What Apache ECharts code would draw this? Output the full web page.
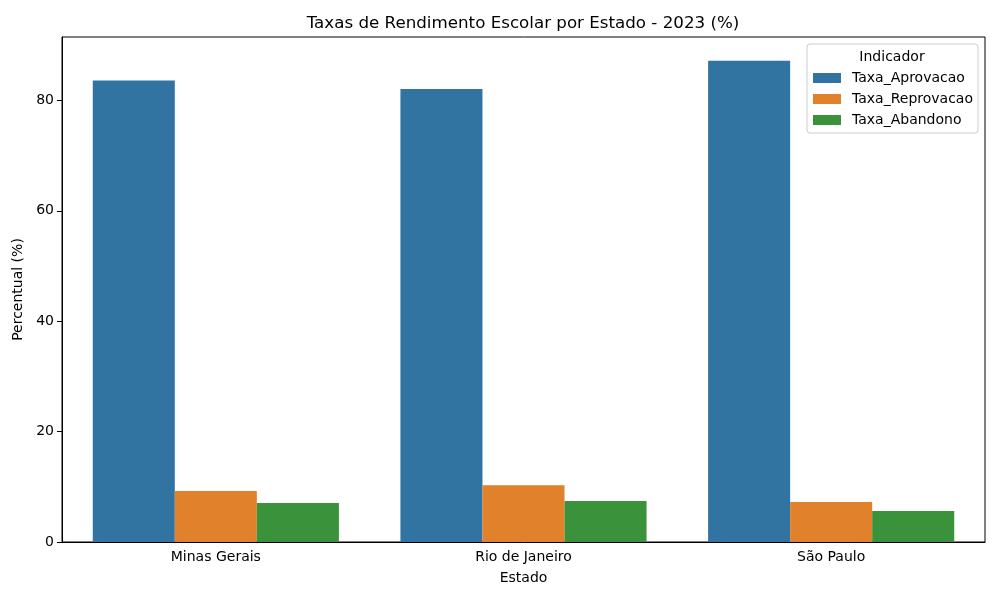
<!DOCTYPE html>
<html>
<head>
<meta charset="utf-8">
<script src="https://cdn.jsdelivr.net/npm/echarts@6/dist/echarts.min.js"></script>
<style>
  html, body { margin: 0; padding: 0; background: #fff; }
  #main { width: 1000px; height: 600px; }
</style>
</head>
<body>
<div id="main"></div>
<script>
// dados
var estados = ['Minas Gerais', 'Rio de Janeiro', 'São Paulo'];
var taxaAprovacao = [83.6, 82.1, 87.2];
var taxaReprovacao = [9.25, 10.3, 7.25];
var taxaAbandono = [7.07, 7.43, 5.62];
var yTicks = [0, 20, 40, 60, 80];

var fonte = 'DejaVu Sans';
var main = document.getElementById('main');
var chart = echarts.init(main);

function serie(nome, valores, cor) {
    return {
        type: 'bar',
        name: nome,
        data: valores,
        barGap: '0%',
        barCategoryGap: '20%',
        itemStyle: { color: cor },
        emphasis: { disabled: true }
    };
}

var option = {
    animation: false,
    title: {
        text: 'Taxas de Rendimento Escolar por Estado - 2023 (%)',
        left: 518,
        textAlign: 'center',
        top: 10,
        textStyle: { fontFamily: fonte, fontSize: 16.7, fontWeight: 'normal', color: '#000' }
    },
    grid: {
        left: 62, right: 15, top: 37, bottom: 58,
        show: true, borderColor: '#000', borderWidth: 1
    },
    legend: {
        orient: 'vertical',
        left: 808,
        top: 66,
        itemWidth: 28,
        itemHeight: 10,
        itemGap: 7,
        icon: 'rect',
        textStyle: { fontFamily: fonte, fontSize: 14, color: '#000', padding: [0, 0, 0, 6] },
        data: ['Taxa_Aprovacao', 'Taxa_Reprovacao', 'Taxa_Abandono']
    },
    graphic: [
        {
            type: 'rect',
            shape: { x: 807, y: 44, width: 171, height: 89, r: 3 },
            style: { fill: 'rgba(255,255,255,0.8)', stroke: '#ccc', lineWidth: 1 },
            z: 0
        },
        {
            type: 'text',
            x: 892, y: 57.5,
            style: {
                text: 'Indicador', fontFamily: fonte, fontSize: 14,
                fill: '#000', align: 'center', verticalAlign: 'middle'
            },
            z: 5
        }
    ],
    xAxis: {
        type: 'category',
        data: estados,
        name: 'Estado',
        nameLocation: 'middle',
        nameGap: 29,
        nameTextStyle: { fontFamily: fonte, fontSize: 14, color: '#000' },
        axisLine: { lineStyle: { color: '#000' } },
        axisTick: { alignWithLabel: true, length: 5, lineStyle: { color: '#000' } },
        axisLabel: { fontFamily: fonte, fontSize: 14, color: '#000', margin: 8 }
    },
    yAxis: {
        type: 'value',
        min: 0,
        max: 91.5,
        interval: 20,
        name: 'Percentual (%)',
        nameLocation: 'middle',
        nameGap: 36,
        nameTextStyle: { fontFamily: fonte, fontSize: 14, color: '#000' },
        splitLine: { show: false },
        axisLine: { show: true, lineStyle: { color: '#000' } },
        axisTick: { show: true, length: 5, lineStyle: { color: '#000' } },
        axisLabel: {
            fontFamily: fonte, fontSize: 14, color: '#000', margin: 8,
            showMaxLabel: false,
            formatter: function (v) { return yTicks.indexOf(v) >= 0 ? String(v) : ''; }
        }
    },
    series: [
        serie('Taxa_Aprovacao', taxaAprovacao, '#3274a1'),
        serie('Taxa_Reprovacao', taxaReprovacao, '#e1812c'),
        serie('Taxa_Abandono', taxaAbandono, '#3a923a')
    ]
};

chart.setOption(option);
</script>
</body>
</html>
